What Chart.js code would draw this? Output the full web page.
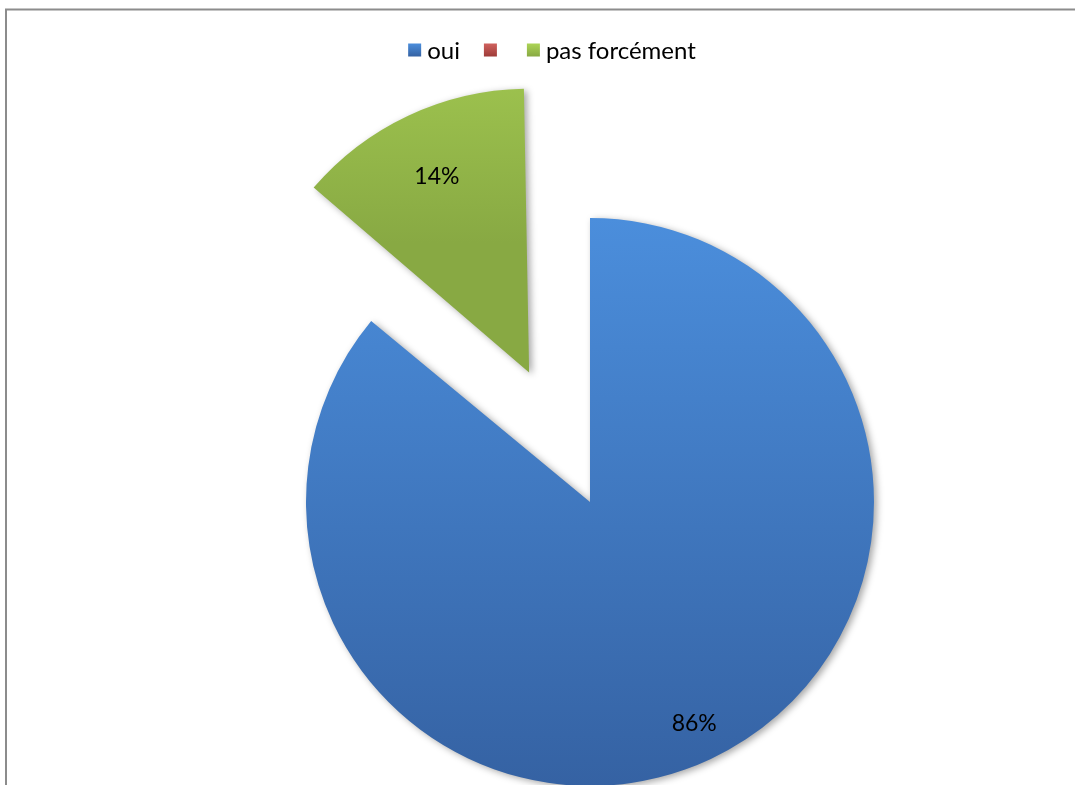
<!DOCTYPE html>
<html>
<head>
<meta charset="utf-8">
<title>oui / pas forcément</title>
<script src="https://cdn.jsdelivr.net/npm/chart.js@4"></script>
<style>
  html, body { margin: 0; padding: 0; background: #fff; }
  #wrap { width: 1075px; height: 785px; }
</style>
</head>
<body>
<div id="wrap"><canvas id="myChart" width="1075" height="785"></canvas></div>
<script>
// answers (percent)
const labels = ['oui', '', 'pas forcément'];
const values = [86, 0, 14];
// how far each slice is pulled out of the pie
const explode = [0, 0, 572];
const topColors = ['#4b8edc', '#d0625e', '#acd456'];
const bottomColors = ['#3562a3', '#9e3b38', '#88a943'];

const PIE_RADIUS = 284;
const FONT = '"Lato", "Liberation Sans", sans-serif';

// vertical extent of slice i once it has been pulled out
function sliceSpan(chart, i) {
    const area = chart.chartArea;
    const cy = (area.top + area.bottom) / 2;
    const total = values.reduce((a, b) => a + b, 0);
    const before = values.slice(0, i).reduce((a, b) => a + b, 0);
    const a0 = -Math.PI / 2 + 2 * Math.PI * before / total;
    const a1 = a0 + 2 * Math.PI * values[i] / total;
    const oy = cy + Math.sin((a0 + a1) / 2) * explode[i] / 4;
    let top = oy, bottom = oy;
    for (let k = 0; k <= 64; k++) {
        const y = oy + Math.sin(a0 + (a1 - a0) * k / 64) * PIE_RADIUS;
        top = Math.min(top, y);
        bottom = Math.max(bottom, y);
    }
    return {top, bottom};
}

function sliceFill(context) {
    const chart = context.chart;
    const i = context.dataIndex;
    if (!chart.chartArea || !values[i]) return topColors[i];
    const span = sliceSpan(chart, i);
    const g = chart.ctx.createLinearGradient(0, span.top, 0, span.bottom);
    g.addColorStop(0, topColors[i]);
    g.addColorStop(1, bottomColors[i]);
    return g;
}

// the arc element also grows an exploded slice; keep it at pie size
const explodeFix = {
    id: 'explodeFix',
    afterDatasetsUpdate(chart) {
        chart.getDatasetMeta(0).data.forEach(arc => {
            const shift = (arc.options.offset || 0) / 4;
            const sweep = arc.endAngle - arc.startAngle;
            arc.outerRadius -= shift * (1 - Math.sin(Math.min(Math.PI, sweep)));
        });
    }
};

const softShadow = {
    id: 'softShadow',
    beforeDatasetDraw(chart) {
        const ctx = chart.ctx;
        ctx.save();
        ctx.shadowColor = 'rgba(0, 0, 0, 0.35)';
        ctx.shadowBlur = 7;
        ctx.shadowOffsetX = 3;
        ctx.shadowOffsetY = 2;
    },
    afterDatasetDraw(chart) {
        chart.ctx.restore();
    }
};

const sliceLabels = {
    id: 'sliceLabels',
    afterDatasetsDraw(chart) {
        const ctx = chart.ctx;
        const total = values.reduce((a, b) => a + b, 0);
        ctx.save();
        ctx.font = '23px ' + FONT;
        ctx.fillStyle = '#000';
        ctx.textAlign = 'center';
        ctx.textBaseline = 'middle';
        chart.getDatasetMeta(0).data.forEach((arc, i) => {
            if (!values[i]) return;
            const mid = (arc.startAngle + arc.endAngle) / 2;
            const r = (arc.options.offset || 0) / 4 + arc.outerRadius * 0.862;
            const x = arc.x + Math.cos(mid) * r;
            const y = arc.y + Math.sin(mid) * r;
            ctx.fillText(Math.round(values[i] / total * 100) + '%', x, y);
        });
        ctx.restore();
    }
};

const frame = {
    id: 'frame',
    beforeDraw(chart) {
        const ctx = chart.ctx;
        ctx.save();
        ctx.strokeStyle = '#8c8c8c';
        ctx.lineWidth = 2;
        ctx.beginPath();
        ctx.moveTo(6, chart.height);
        ctx.lineTo(6, 9.5);
        ctx.lineTo(chart.width, 9.5);
        ctx.stroke();
        ctx.restore();
    }
};

// legend row above the pie
const legendRow = {
    id: 'legendRow',
    afterDraw(chart) {
        const ctx = chart.ctx;
        const box = 13, gap = 6, spacing = 24, centerX = 552, midY = 50;
        ctx.save();
        ctx.font = '24px ' + FONT;
        const widths = labels.map(t => box + gap + (t ? ctx.measureText(t).width : 0));
        const full = widths.reduce((a, b) => a + b, 0) + spacing * (labels.length - 1);
        let x = centerX - full / 2;
        labels.forEach((t, i) => {
            const g = ctx.createLinearGradient(0, midY - box / 2, 0, midY + box / 2);
            g.addColorStop(0, topColors[i]);
            g.addColorStop(1, bottomColors[i]);
            ctx.fillStyle = g;
            ctx.fillRect(x, midY - box / 2, box, box);
            ctx.fillStyle = '#000';
            ctx.textBaseline = 'middle';
            ctx.textAlign = 'left';
            if (t) ctx.fillText(t, x + box + gap, midY + 1);
            x += widths[i] + spacing;
        });
        ctx.restore();
    }
};

const ctx = document.getElementById('myChart').getContext('2d');
const myChart = new Chart(ctx, {
    type: 'pie',
    data: {
        labels: labels,
        datasets: [{
            data: values,
            backgroundColor: sliceFill,
            borderWidth: 0,
            offset: explode
        }]
    },
    options: {
        responsive: false,
        animation: false,
        events: [],
        radius: PIE_RADIUS,
        cutout: '0%',
        layout: {
            padding: { left: 105, top: 219, right: 0, bottom: 0 }
        },
        plugins: {
            legend: { display: false },
            tooltip: { enabled: false }
        }
    },
    plugins: [frame, explodeFix, softShadow, sliceLabels, legendRow]
});
</script>
</body>
</html>
